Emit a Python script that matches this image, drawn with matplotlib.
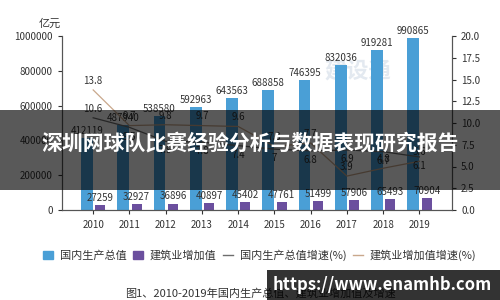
import numpy as np
import matplotlib
matplotlib.use('Agg')
import matplotlib.pyplot as plt
from matplotlib.patches import Rectangle, Patch
from matplotlib.lines import Line2D

plt.rcParams['font.family'] = ['Noto Sans CJK SC', 'DejaVu Sans']

# data
years = ['2010', '2011', '2012', '2013', '2014', '2015', '2016', '2017', '2018', '2019']
gdp = [412119, 487940, 538580, 592963, 643563, 688858, 746395, 832036, 919281, 990865]
build = [27259, 32927, 36896, 40897, 45402, 47761, 51499, 57906, 65493, 70904]
gdp_rate = [10.6, 9.5, 7.9, 7.8, 7.4, 7.0, 6.8, 6.9, 6.7, 6.1]
build_rate = [13.8, 9.7, 9.8, 9.7, 9.6, 7.3, 7.7, 3.9, 4.8, 5.6]

blue = '#4a9fd6'
purple = '#6b4f9e'
grey_line = '#6d6d6d'
tan_line = '#c9a88c'
txt = '#333333'

fig = plt.figure(figsize=(5, 3), dpi=100)
ax = fig.add_axes([0.124, 0.30, 0.78, 0.58])
ax2 = ax.twinx()

x = np.arange(len(years))
ax.bar(x - 0.17, gdp, width=0.33, color=blue, zorder=2)
ax.bar(x + 0.2, build, width=0.28, color=purple, zorder=2)
for xi, v in zip(x, gdp):
    ax.text(xi - 0.17, v + 12000, str(v), ha='center', va='bottom', fontsize=7, color=txt)
for xi, v in zip(x, build):
    ax.text(xi + 0.2, v + 12000, str(v), ha='center', va='bottom', fontsize=7, color=txt)

# faint watermark logo behind the bars
ax.text(7.3, 800000, '建设通', fontsize=16, color='#e3e9f0', ha='center', va='center',
        fontweight='bold', zorder=1)

ax2.plot(x, gdp_rate, color=grey_line, lw=0.9)
ax2.plot(x, build_rate, color=tan_line, lw=0.9)
# GDP growth labels sit below the line (first one above), construction labels above
for i, (xi, v) in enumerate(zip(x, gdp_rate)):
    up = i == 0
    ax2.annotate(f'{v:g}', (xi, v), xytext=(0, 3 if up else -3), textcoords='offset points',
                 ha='center', va='bottom' if up else 'top', fontsize=7, color=txt)
for xi, v in zip(x, build_rate):
    ax2.annotate(f'{v:g}', (xi, v), xytext=(0, 3), textcoords='offset points',
                 ha='center', va='bottom', fontsize=7, color=txt)

ax.set_xlim(-0.86, 9.9)
ax.set_ylim(0, 1000000)
ax2.set_ylim(0, 20)
left_ticks = np.arange(0, 1000001, 200000)
ax.set_yticks(left_ticks)
ax.set_yticklabels([str(v) for v in left_ticks])
right_ticks = np.arange(0, 20.1, 2.5)
ax2.set_yticks(right_ticks)
ax2.set_yticklabels([f'{v:.1f}' for v in right_ticks])
ax.set_xticks(x)
ax.set_xticklabels(years)

for a in (ax, ax2):
    a.spines['top'].set_visible(False)
    for s in ('left', 'right', 'bottom'):
        a.spines[s].set_color('#555555')
        a.spines[s].set_linewidth(0.8)
    a.tick_params(labelsize=7, colors=txt, length=3, width=0.8)
ax.tick_params(axis='x', pad=4)

fig.text(0.10, 0.905, '亿元', fontsize=8, color=txt, ha='center', va='bottom')

handles = [Patch(color=blue), Patch(color=purple),
           Line2D([], [], color=grey_line, lw=1), Line2D([], [], color=tan_line, lw=1)]
labels = ['国内生产总值', '建筑业增加值', '国内生产总值增速(%)', '建筑业增加值增速(%)']
fig.legend(handles, labels, loc='center', bbox_to_anchor=(0.52, 0.15), ncol=4,
           frameon=False, fontsize=8, handlelength=0.9, handleheight=0.8,
           handletextpad=0.6, columnspacing=0.6, labelcolor=txt)

fig.text(0.52, 0.005, '图1、2010-2019年国内生产总值、建筑业增加值及增速', fontsize=8,
         color=txt, ha='center', va='bottom')

# dark title band across the middle
fig.patches.append(Rectangle((0, 1 - 190 / 300), 1, 80 / 300, transform=fig.transFigure,
                             facecolor='black', alpha=0.65, zorder=10))
fig.text(0.5, 1 - 143 / 300, '深圳网球队比赛经验分析与数据表现研究报告', fontsize=15,
         fontweight='bold', color='white', ha='center', va='center', zorder=11)

# url box bottom right
fig.patches.append(Rectangle((267 / 500, 0), 233 / 500, 30 / 300, transform=fig.transFigure,
                             facecolor='black', alpha=0.8, zorder=10))
fig.text(0.765, 0.05, 'https://www.enamhb.com', fontsize=12, fontweight='bold',
         color='white', ha='center', va='center', zorder=11)

fig.savefig('out.png', dpi=100)
